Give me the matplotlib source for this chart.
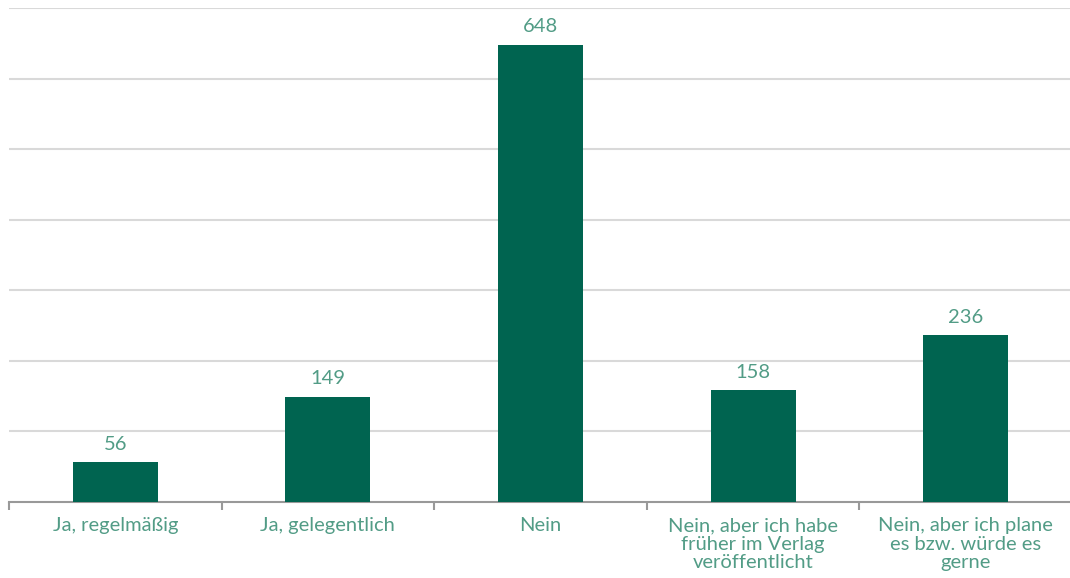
import matplotlib.pyplot as plt
import numpy as np

categories = ["Ja, regelmäßig", "Ja, gelegentlich", "Nein",
              "Nein, aber ich habe\nfrüher im Verlag\nveröffentlicht",
              "Nein, aber ich plane\nes bzw. würde es\ngerne"]
values = [56, 149, 648, 158, 236]

bar_color = "#006450"
text_color = "#529c86"

plt.rcParams['font.family'] = ['Lato', 'DejaVu Sans']

fig = plt.figure(figsize=(10.7, 5.78), dpi=100)
ax = fig.add_axes([9 / 1070, 76 / 578, 1063 / 1070, 494 / 578])

x = np.arange(len(categories))
ax.bar(x, values, width=0.4, color=bar_color, zorder=3)

for xi, v in zip(x, values):
    ax.text(xi, v + 14, str(v), ha='center', va='bottom',
            fontsize=14.5, color=text_color)

ax.set_xlim(-0.5, len(categories) - 0.5)
ax.set_ylim(0, 700)
ax.set_yticks(np.arange(100, 701, 100))
ax.yaxis.grid(True, color="#d9d9d9", linewidth=1.5, zorder=0)
ax.tick_params(axis='y', left=False, labelleft=False)

# category labels centered, ticks at the boundaries
ax.set_xticks(x)
ax.set_xticklabels(categories, fontsize=14.5, color=text_color, linespacing=1.1)
ax.tick_params(axis='x', which='major', length=0, pad=11)
ax.set_xticks(np.arange(-0.5, len(categories), 1), minor=True)
ax.tick_params(axis='x', which='minor', length=6, width=1.5, color="#999999")

for side in ['top', 'right', 'left']:
    ax.spines[side].set_visible(False)
ax.spines['bottom'].set_color("#999999")
ax.spines['bottom'].set_linewidth(1.5)

fig.savefig("out.png", dpi=100)
